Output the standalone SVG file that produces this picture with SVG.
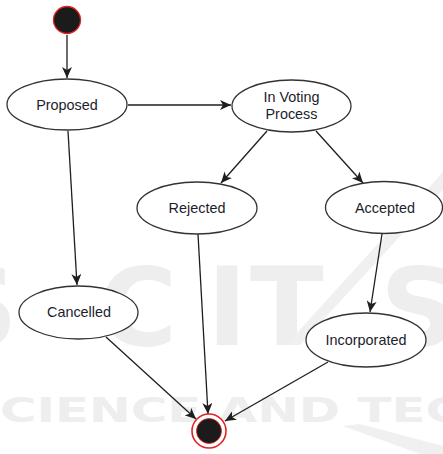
<svg xmlns="http://www.w3.org/2000/svg" width="443" height="454" viewBox="0 0 443 454">
  <defs>
    <marker id="arrow" markerUnits="userSpaceOnUse" markerWidth="12" markerHeight="10" refX="11" refY="5" orient="auto">
      <path d="M0,0 L11,5 L0,10 L3,5 Z" fill="#1e1e1e"/>
    </marker>
    <style>
      .state ellipse { fill: #ffffff; stroke: #333333; stroke-width: 1.3; }
      .state text { font-family: "Liberation Sans", Arial, sans-serif; font-size: 14.4px; fill: #1d1d2b; text-anchor: middle; }
      .edge { fill: none; stroke: #1e1e1e; stroke-width: 1.3; marker-end: url(#arrow); }
      .wm { fill: #eeeeee; font-family: "DejaVu Sans", sans-serif; font-weight: bold; }
    </style>
  </defs>

  <rect width="443" height="454" fill="#ffffff"/>

  <!-- faint background lettering -->
  <g id="watermark">
    <text class="wm" font-size="108"><tspan x="-60" y="345">S</tspan><tspan x="98" y="345">C</tspan><tspan x="207" y="345">I</tspan><tspan x="250" y="345">T</tspan><tspan x="380" y="345">S</tspan></text>
    <path d="M443,172 L452,180 L300,345 L286,345 Z" fill="#f0f0f0"/>
    <path d="M343,426 L360,424 L443,446 L443,454 L420,454 Z" fill="#f0f0f0"/>
    <text class="wm" x="0" y="422" font-size="33" textLength="462" lengthAdjust="spacingAndGlyphs">CIENCE AND TEC</text>
  </g>

  <g id="connectors">
    <line class="edge" x1="67" y1="35" x2="67" y2="78"/>
    <line class="edge" x1="128" y1="105" x2="231" y2="105"/>
    <line class="edge" x1="68" y1="131" x2="77" y2="285"/>
    <line class="edge" x1="267" y1="131" x2="221" y2="183"/>
    <line class="edge" x1="316" y1="131" x2="363" y2="183"/>
    <line class="edge" x1="198" y1="234" x2="208" y2="414"/>
    <line class="edge" x1="382" y1="234" x2="370" y2="312"/>
    <line class="edge" x1="106" y1="337" x2="196" y2="419"/>
    <line class="edge" x1="328" y1="362" x2="225" y2="421"/>
  </g>

  <g id="start">
    <circle cx="67" cy="20" r="13.5" fill="#1b1b1b" stroke="#e32222" stroke-width="1.3"/>
  </g>

  <g id="proposed" class="state">
    <ellipse cx="67" cy="104.5" rx="60" ry="25.5"/>
    <text x="67" y="110">Proposed</text>
  </g>

  <g id="in-voting-process" class="state">
    <ellipse cx="291.5" cy="106" rx="59.5" ry="26"/>
    <text x="291.5" y="101.5">In Voting</text>
    <text x="291.5" y="118.5">Process</text>
  </g>

  <g id="rejected" class="state">
    <ellipse cx="197" cy="208" rx="60" ry="26"/>
    <text x="197" y="212.5">Rejected</text>
  </g>

  <g id="accepted" class="state">
    <ellipse cx="384" cy="207.5" rx="58.5" ry="26"/>
    <text x="385" y="212.5">Accepted</text>
  </g>

  <g id="cancelled" class="state">
    <ellipse cx="78.5" cy="312.5" rx="59.5" ry="26.5"/>
    <text x="79" y="317">Cancelled</text>
  </g>

  <g id="incorporated" class="state">
    <ellipse cx="366" cy="340" rx="60" ry="27"/>
    <text x="366" y="344.5">Incorporated</text>
  </g>

  <g id="end">
    <circle cx="209" cy="431" r="17" fill="#ffffff" stroke="#e32222" stroke-width="1.6"/>
    <circle cx="209" cy="431" r="12.5" fill="#1b1b1b" stroke="#e32222" stroke-width="0.8"/>
  </g>
</svg>
